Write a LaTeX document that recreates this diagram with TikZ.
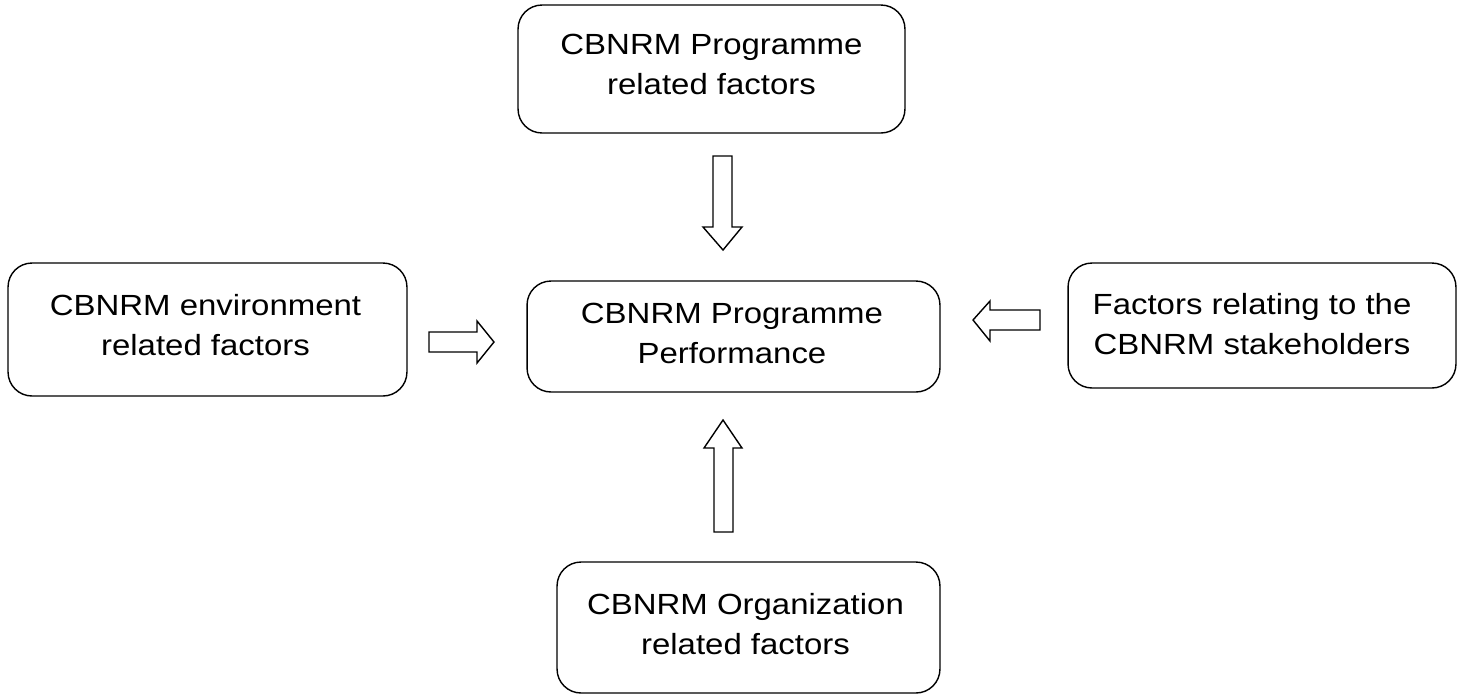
\documentclass[tikz,border=0pt]{standalone}
\usepackage{fontspec}
\setmainfont{Liberation Sans}[FakeStretch=1.13]
\usetikzlibrary{positioning}
\tikzset{factor/.style={draw,rounded corners=0.48cm,inner sep=0pt,line width=0.8pt},
factortext/.style={align=center,inner sep=0pt,font=\fontsize{16.6}{22.8}\selectfont},
blockarrow/.style={draw,fill=white,line width=0.8pt,line join=miter}}

\begin{document}
\begin{tikzpicture}[x=0.02cm,y=-0.02cm]
\useasboundingbox (0,0) rectangle (1463,698);
% the five groups of factors
\node[factor,minimum width=7.74cm,minimum height=2.56cm](prog) at (711.5,69){};
\node[factor,minimum width=7.98cm,minimum height=2.66cm](env) at (207.5,329.5){};
\node[factor,minimum width=8.26cm,minimum height=2.22cm](perf) at (733.5,336.5){};
\node[factor,minimum width=7.76cm,minimum height=2.5cm](stake) at (1262,325.5){};
\node[factor,minimum width=7.66cm,minimum height=2.62cm](org) at (748.5,627.5){};
\node[factortext](progtxt) at ([shift={(0,-4.5)}]prog.center){CBNRM Programme\\related factors};
\node[factortext](envtxt) at ([shift={(-2,-4)}]env.center){CBNRM environment\\related factors};
\node[factortext](perftxt) at ([shift={(-1.5,-3)}]perf.center){CBNRM Programme\\Performance};
\node[factortext](staketxt) at ([shift={(-10,-1)}]stake.center){Factors relating to the\\CBNRM stakeholders};
\node[factortext](orgtxt) at ([shift={(-3,-3.5)}]org.center){CBNRM Organization\\related factors};
% block arrows into the performance box
\draw[blockarrow](713,156)--(732,156)--(732,227)--(742,227)--(723,250)--(703,227)--(713,227)--cycle;
\draw[blockarrow](429,332)--(477,332)--(477,321)--(494,342)--(477,363)--(477,352)--(429,352)--cycle;
\draw[blockarrow](1040,310)--(990,310)--(990,301)--(973,320)--(990,341)--(990,330)--(1040,330)--cycle;
\draw[blockarrow](714,532)--(714,448)--(704,448)--(723,420)--(742,448)--(733,448)--(733,532)--cycle;
\end{tikzpicture}
\end{document}
